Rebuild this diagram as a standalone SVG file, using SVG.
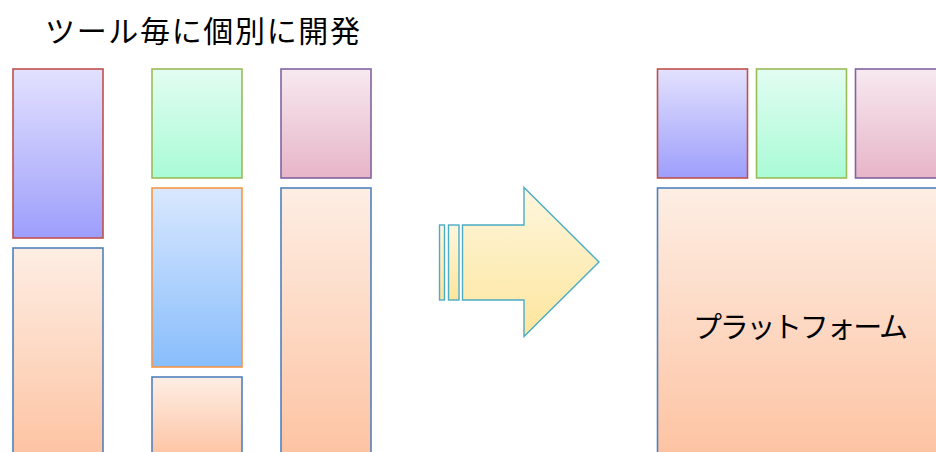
<svg xmlns="http://www.w3.org/2000/svg" width="936" height="452" viewBox="0 0 936 452">
<defs>
<linearGradient id="gBlue" x1="0" y1="0" x2="0" y2="1"><stop offset="0" stop-color="#e3e1fe"/><stop offset="1" stop-color="#9d9efb"/></linearGradient>
<linearGradient id="gGreen" x1="0" y1="0" x2="0" y2="1"><stop offset="0" stop-color="#e2fdf1"/><stop offset="1" stop-color="#a9fbd6"/></linearGradient>
<linearGradient id="gPink" x1="0" y1="0" x2="0" y2="1"><stop offset="0" stop-color="#f7e9f0"/><stop offset="1" stop-color="#e7b5c8"/></linearGradient>
<linearGradient id="gSky" x1="0" y1="0" x2="0" y2="1"><stop offset="0" stop-color="#d9e8fe"/><stop offset="1" stop-color="#88bdfc"/></linearGradient>
<linearGradient id="gPeach" x1="0" y1="0" x2="0" y2="1"><stop offset="0" stop-color="#fdeee4"/><stop offset="1" stop-color="#fdc3a2"/></linearGradient>
<linearGradient id="gArrow" x1="0" y1="0" x2="0" y2="1"><stop offset="0" stop-color="#fef7de"/><stop offset="1" stop-color="#fde59c"/></linearGradient>
</defs>
<style>
.b{stroke-width:1.6}
.red{fill:url(#gBlue);stroke:#c0504d}
.grn{fill:url(#gGreen);stroke:#9bbb59}
.pur{fill:url(#gPink);stroke:#8064a2}
.org{fill:url(#gSky);stroke:#f79646}
.pch{fill:url(#gPeach);stroke:#4f81bd}
.arr{fill:url(#gArrow);stroke:#4bacc6;stroke-width:1.4}
.t{font-family:"Noto Sans CJK JP","Noto Sans CJK SC",sans-serif;fill:#000;font-weight:400}
</style>
<text class="t" x="45" y="42" font-size="30" textLength="315" lengthAdjust="spacing">ツール毎に個別に開発</text>
<g id="tool1-top"><rect class="b red" x="13" y="69" width="90" height="169"/></g>
<g id="tool1-bottom"><rect class="b pch" x="13" y="248" width="90" height="210"/></g>
<g id="tool2-top"><rect class="b grn" x="152" y="69" width="90" height="109"/></g>
<g id="tool2-mid"><rect class="b org" x="152" y="188" width="90" height="179"/></g>
<g id="tool2-bottom"><rect class="b pch" x="152" y="377" width="90" height="81"/></g>
<g id="tool3-top"><rect class="b pur" x="281" y="69" width="90" height="109"/></g>
<g id="tool3-bottom"><rect class="b pch" x="281" y="188" width="90" height="270"/></g>
<g id="arrow">
<rect class="arr" x="439.5" y="225" width="5" height="75"/>
<rect class="arr" x="448.5" y="225" width="10.5" height="75"/>
<polygon class="arr" points="462.5,225 524,225 524,187.5 599,262 524,336.5 524,300 462.5,300"/>
</g>
<g id="p-red"><rect class="b red" x="657.5" y="69" width="90" height="109"/></g>
<g id="p-green"><rect class="b grn" x="756.5" y="69" width="90" height="109"/></g>
<g id="p-purple"><rect class="b pur" x="855.5" y="69" width="90" height="109"/></g>
<g id="platform"><rect class="b pch" x="657.5" y="188" width="290" height="270"/>
<text class="t" x="693" y="338" font-size="29" textLength="215" lengthAdjust="spacing">プラットフォーム</text></g>
<g id="connectors"></g>
</svg>
